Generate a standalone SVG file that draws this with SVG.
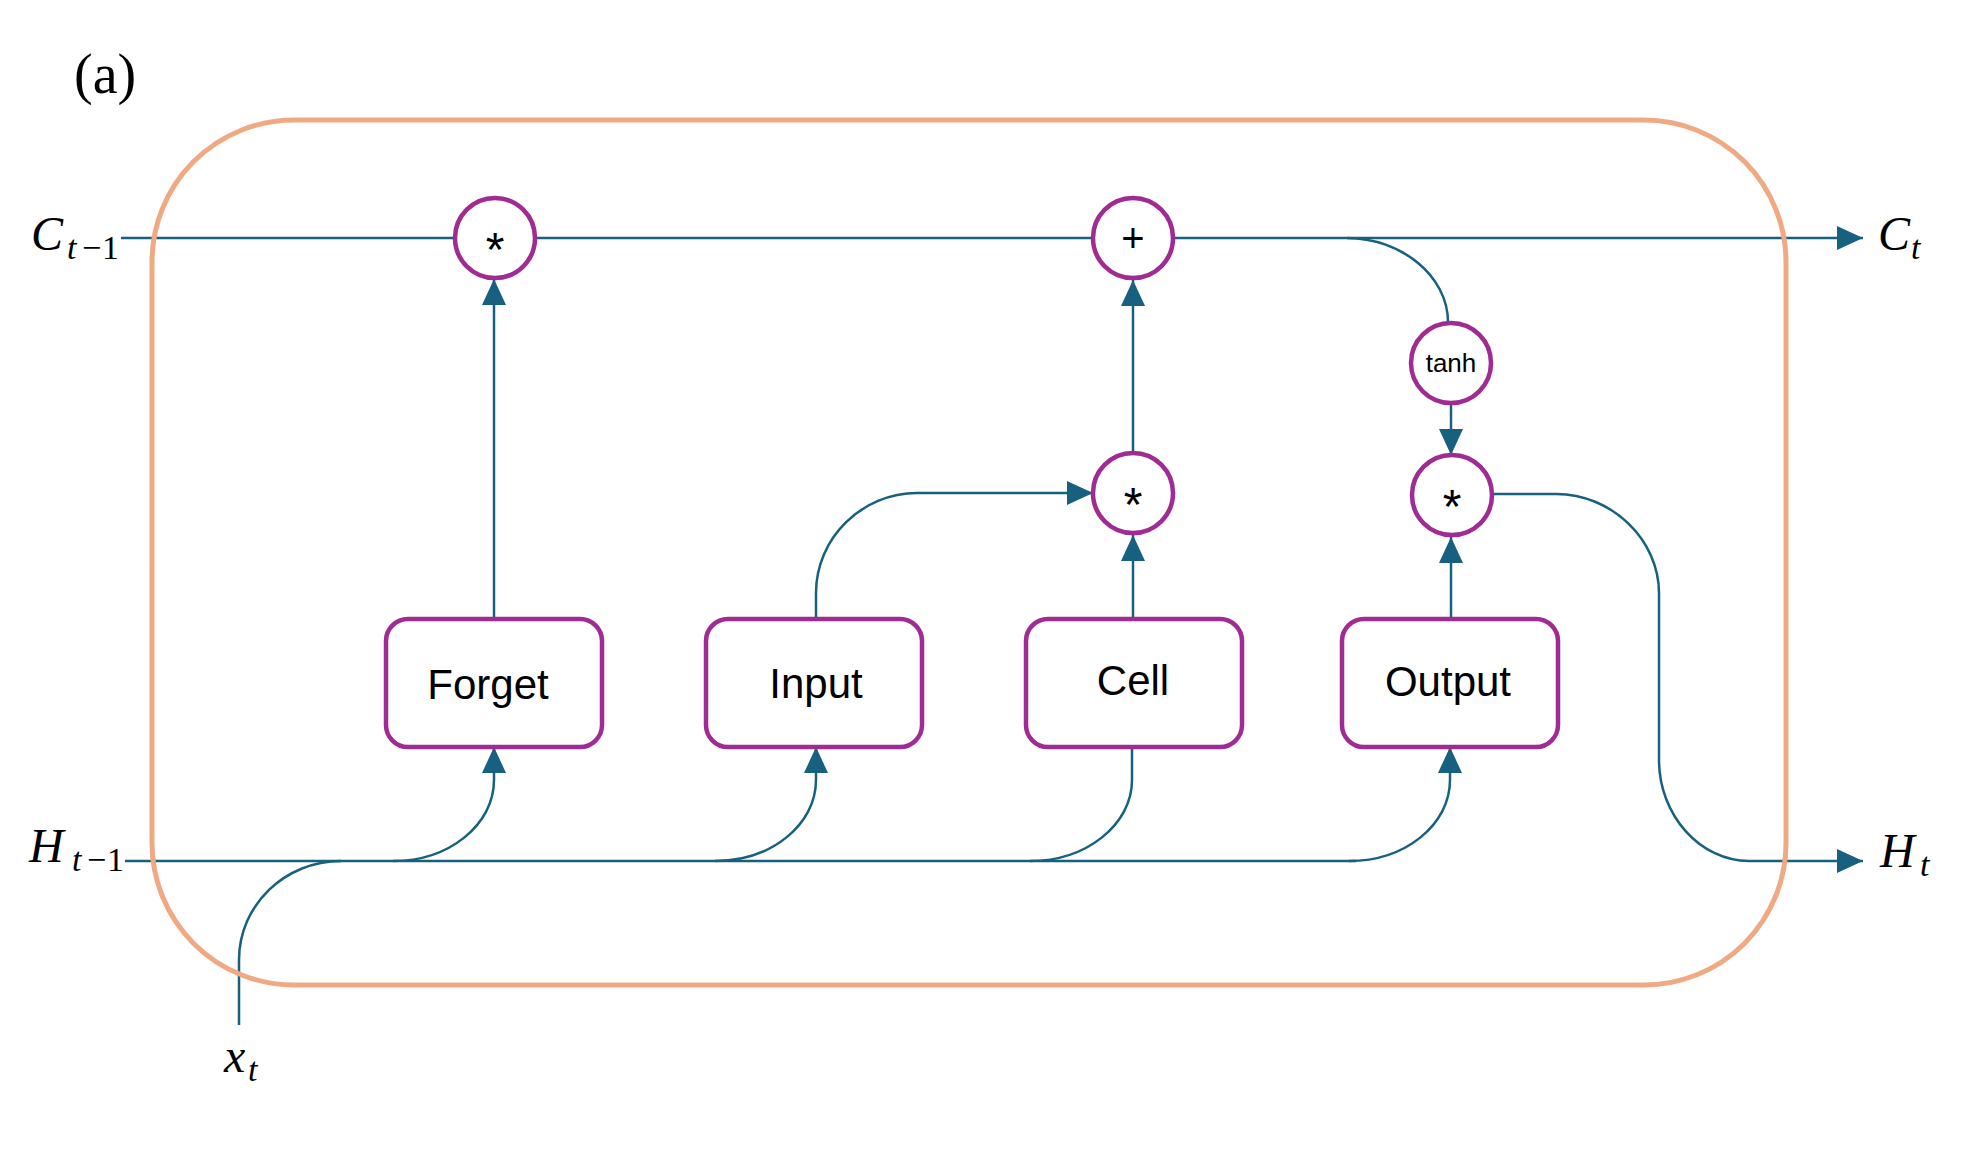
<svg xmlns="http://www.w3.org/2000/svg" width="1980" height="1163" viewBox="0 0 1980 1163">
<defs>
<style>
.ln{fill:none;stroke:#17607F;stroke-width:2.5}
.box{fill:#FFFFFF;stroke:#A02B93;stroke-width:4.5}
.op{fill:#FFFFFF;stroke:#A02B93;stroke-width:4.5}
.lbl{font-family:"Liberation Sans",Arial,sans-serif;font-size:42px;fill:#000;text-anchor:middle}
.sym{font-family:"Liberation Sans",Arial,sans-serif;fill:#000;text-anchor:middle}
.math{font-family:"Liberation Serif","Times New Roman",serif;font-style:italic;fill:#000}
.up{font-family:"Liberation Serif","Times New Roman",serif;fill:#000}
</style>
<marker id="ah" markerUnits="userSpaceOnUse" markerWidth="26" markerHeight="24" refX="26" refY="12" orient="auto">
<path d="M0,0 L26,12 L0,24 Z" fill="#17607F"/>
</marker>
</defs>
<rect width="1980" height="1163" fill="#FFFFFF"/>
<text x="74" y="93" class="up" font-size="56">(a)</text>

<g id="connectors">
<path class="ln" d="M121 238 H1863" marker-end="url(#ah)"/>
<path class="ln" d="M125 861 H1356"/>
<path class="ln" d="M494 619 V279" marker-end="url(#ah)"/>
<path class="ln" d="M239 1025 V960 C239 905 285 861 341 861"/>
<path class="ln" d="M393 861 C449 861 494 825 494 780 V747" marker-end="url(#ah)"/>
<path class="ln" d="M715 861 C771 861 816 825 816 780 V747" marker-end="url(#ah)"/>
<path class="ln" d="M1132 747 V780 C1132 825 1086 861 1030 861"/>
<path class="ln" d="M1349 861 C1405 861 1450 825 1450 780 V747" marker-end="url(#ah)"/>
<path class="ln" d="M816 619 V593 C816 538 862 493 917 493 H1093" marker-end="url(#ah)"/>
<path class="ln" d="M1133 619 V535" marker-end="url(#ah)"/>
<path class="ln" d="M1133 453 V280" marker-end="url(#ah)"/>
<path class="ln" d="M1347 238 C1401 238 1448 276 1448 322"/>
<path class="ln" d="M1451 403 V455" marker-end="url(#ah)"/>
<path class="ln" d="M1451 619 V537" marker-end="url(#ah)"/>
<path class="ln" d="M1492 494 H1556 C1612 494 1659 540 1659 593 V760 C1659 815 1700 861 1749 861 H1863" marker-end="url(#ah)"/>
</g>

<rect id="cell-boundary" x="152" y="120" width="1634" height="865" rx="142" ry="142" fill="none" stroke="#F1A983" stroke-width="5"/>

<g id="mul-forget">
<circle class="op" cx="495" cy="238" r="40"/>
<text class="sym" x="495" y="266" font-size="48">*</text>
</g>
<g id="add-cell">
<circle class="op" cx="1133" cy="238" r="40"/>
<text class="sym" x="1133" y="252" font-size="40">+</text>
</g>
<g id="mul-input">
<circle class="op" cx="1133" cy="493" r="40"/>
<text class="sym" x="1133" y="521" font-size="48">*</text>
</g>
<g id="tanh">
<circle class="op" cx="1451" cy="363" r="40"/>
<text class="sym" x="1451" y="372" font-size="26">tanh</text>
</g>
<g id="mul-output">
<circle class="op" cx="1452" cy="495" r="40"/>
<text class="sym" x="1452" y="523" font-size="48">*</text>
</g>

<g id="forget">
<rect class="box" x="386" y="619" width="216" height="128" rx="22"/>
<text class="lbl" x="488" y="699">Forget</text>
</g>
<g id="input">
<rect class="box" x="706" y="619" width="216" height="128" rx="22"/>
<text class="lbl" x="816" y="698">Input</text>
</g>
<g id="cell">
<rect class="box" x="1026" y="619" width="216" height="128" rx="22"/>
<text class="lbl" x="1133" y="695">Cell</text>
</g>
<g id="output">
<rect class="box" x="1342" y="619" width="216" height="128" rx="22"/>
<text class="lbl" x="1448" y="696" font-size="43">Output</text>
</g>

<g id="labels">
<text class="math" x="31" y="250" font-size="48">C</text>
<text class="math" x="67" y="259" font-size="34">t</text>
<text class="up" x="82" y="259" font-size="34">−</text>
<text class="up" x="102" y="259" font-size="34">1</text>

<text class="math" x="29" y="862" font-size="48">H</text>
<text class="math" x="72" y="871" font-size="34">t</text>
<text class="up" x="87" y="871" font-size="34">−</text>
<text class="up" x="107" y="871" font-size="34">1</text>

<text class="math" x="1878" y="250" font-size="48">C</text>
<text class="math" x="1911" y="259" font-size="34">t</text>

<text class="math" x="1880" y="867" font-size="48">H</text>
<text class="math" x="1920" y="876" font-size="34">t</text>

<text class="math" x="224" y="1072" font-size="48">x</text>
<text class="math" x="248" y="1081" font-size="34">t</text>
</g>
</svg>
